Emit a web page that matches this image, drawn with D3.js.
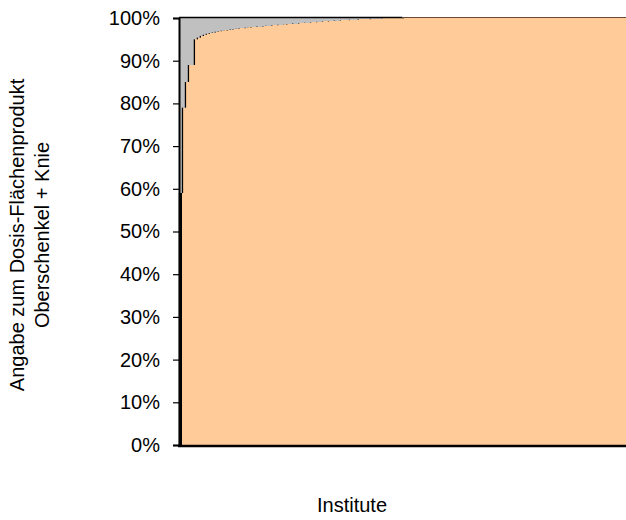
<!DOCTYPE html>
<html><head><meta charset="utf-8">
<script src="https://cdn.jsdelivr.net/npm/d3@7"></script>
<style>body{margin:0;background:#fff}svg{display:block}text{font-family:"Liberation Sans",Arial,sans-serif;fill:#000}</style>
</head><body>
<script>
// Share (%) of institutes reporting the dose-area product, sorted ascending
const institutes = d3.range(1, 151).map(i => "Institut " + i);
const withValue = [59,79,85,89,89,95,95.4,95.8,96.1,96.3,96.5,96.6,96.8,96.9,97.0,97.1,97.2,97.3,97.4,97.5,
97.6,97.6,97.7,97.8,97.9,97.9,98.0,98.0,98.1,98.2,98.2,98.3,98.3,98.4,98.4,98.5,98.6,98.6,98.7,98.7,
98.8,98.8,98.9,98.9,99.0,99.0,99.1,99.1,99.2,99.2,99.3,99.3,99.4,99.4,99.5,99.5,99.5,99.6,99.6,99.6,
99.7,99.7,99.7,99.7,99.8,99.8,99.8,99.8,99.9,99.9,99.9,99.9,99.9,99.9,99.9,
100,100,100,100,100,100,100,100,100,100,100,100,100,100,100,100,100,100,100,100,100,100,100,100,100,
100,100,100,100,100,100,100,100,100,100,100,100,100,100,100,100,100,100,100,100,100,100,100,100,100,
100,100,100,100,100,100,100,100,100,100,100,100,100,100,100,100,100,100,100,100,100,100,100,100,100];
const withoutValue = withValue.map(v => 100 - v);
const yTicks = [0,10,20,30,40,50,60,70,80,90,100];
const yTitle = ["Angabe zum Dosis-Flächenprodukt", "Oberschenkel + Knie"];
const xTitle = "Institute";

const W = 626, H = 520;
const m = {l: 179, r: 626, t: 18, b: 445};
const svg = d3.select("body").append("svg").attr("width", W).attr("height", H);
const x = d3.scaleBand().domain(institutes).range([m.l, m.r]).padding(0);
const y = d3.scaleLinear().domain([0, 100]).range([m.b, m.t]);

const rows = institutes.map((k, i) => ({k, a: withValue[i], b: withoutValue[i]}));
const stack = d3.stack().keys(["a", "b"])(rows);
const colors = {a: "#FFCC99", b: "#C0C0C0"};
stack.forEach(s => {
  svg.append("g").selectAll("rect").data(s).join("rect")
    .attr("x", d => x(d.data.k))
    .attr("width", x.bandwidth() + 0.6)
    .attr("y", d => y(d[1]))
    .attr("height", d => y(d[0]) - y(d[1]))
    .attr("fill", colors[s.key])
    .attr("shape-rendering", "crispEdges");
});

// black outline along the rises of the orange steps
const rise = svg.append("g").attr("stroke", "#000").attr("stroke-width", 1.3);
rows.forEach((d, i) => {
  const prev = i === 0 ? 0 : rows[i - 1].a;
  if (d.a > prev) {
    rise.append("line").attr("x1", x(d.k) + 0.5).attr("x2", x(d.k) + 0.5)
      .attr("y1", y(prev)).attr("y2", y(d.a));
  }
});
// first institute edge
rise.append("line").attr("x1", x(institutes[0]) + 2).attr("x2", x(institutes[0]) + 2)
  .attr("y1", y(0)).attr("y2", y(withValue[0])).attr("stroke-width", 2);

// top border: black over grey part, brownish over full orange bars
const lastGrey = d3.max(rows.map((d, i) => d.b > 0 ? i : -1));
svg.append("line").attr("x1", m.l).attr("x2", x(institutes[lastGrey]) + x.bandwidth())
  .attr("y1", y(100) - 0.5).attr("y2", y(100) - 0.5).attr("stroke", "#000").attr("stroke-width", 1.5);
svg.append("line").attr("x1", x(institutes[lastGrey]) + x.bandwidth()).attr("x2", m.r)
  .attr("y1", y(100) - 0.5).attr("y2", y(100) - 0.5).attr("stroke", "#6b4a33").attr("stroke-width", 1.2);

// axes
const ya = svg.append("g").attr("transform", `translate(${m.l},0)`)
  .call(d3.axisLeft(y).tickValues(yTicks).tickFormat(d => d + "%").tickSize(6).tickPadding(13));
ya.select(".domain").attr("stroke", "#000").attr("stroke-width", 2);
ya.selectAll(".tick line").attr("stroke", "#000").attr("stroke-width", 1.2);
ya.selectAll("text").style("font-size", "20px").style("font-family", '"Liberation Sans",Arial,sans-serif').attr("fill", "#000");

svg.append("line").attr("x1", m.l - 1).attr("x2", m.r + 2).attr("y1", m.b + 1).attr("y2", m.b + 1)
  .attr("stroke", "#000").attr("stroke-width", 2.5);

// titles
const yt = svg.append("text").attr("transform", `translate(24,235) rotate(-90)`)
  .attr("text-anchor", "middle").style("font-size", "20px");
yTitle.forEach((t, i) => yt.append("tspan").attr("x", 0).attr("dy", i === 0 ? 0 : 25).text(t));
svg.append("text").attr("x", 352).attr("y", 512).attr("text-anchor", "middle")
  .style("font-size", "20px").text(xTitle);
</script>
</body></html>
